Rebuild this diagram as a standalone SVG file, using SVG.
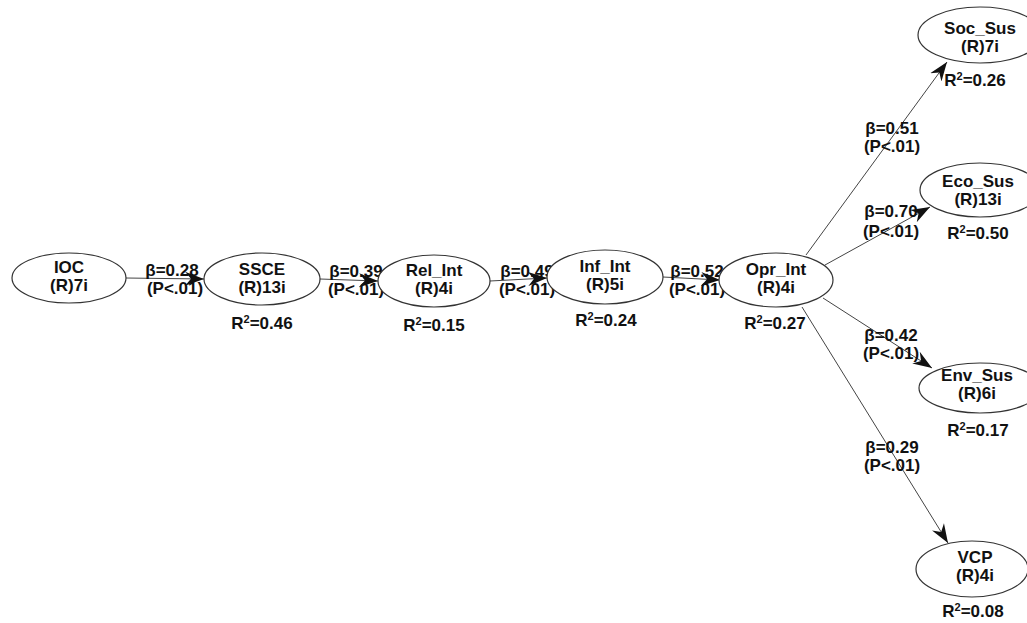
<svg xmlns="http://www.w3.org/2000/svg" width="1027" height="623" viewBox="0 0 1027 623">
<style>
.n{fill:#fff;stroke:#333;stroke-width:1.2}
.t{font-family:"Liberation Sans",Arial,sans-serif;font-weight:bold;font-size:17px;fill:#111;text-anchor:middle}
.e{stroke:#444;stroke-width:1;fill:none;marker-end:url(#ah)}
</style>
<defs>
<marker id="ah" markerUnits="userSpaceOnUse" markerWidth="20" markerHeight="16" refX="19" refY="7" orient="auto" viewBox="0 0 20 14">
<path d="M0,0 L19,7 L0,14 L6,7 z" fill="#111"/>
</marker>
</defs>
<rect width="1027" height="623" fill="#fff"/>
<g id="connectors">
<line class="e" x1="126" y1="278" x2="204" y2="279"/>
<line class="e" x1="320" y1="279" x2="378" y2="281"/>
<line class="e" x1="490" y1="281" x2="547" y2="278"/>
<line class="e" x1="663" y1="277" x2="720" y2="280"/>
<line class="e" x1="806" y1="255" x2="947" y2="62"/>
<line class="e" x1="825" y1="265" x2="930" y2="207"/>
<line class="e" x1="823" y1="298" x2="932" y2="368"/>
<line class="e" x1="802" y1="307" x2="948" y2="543"/>
<text class="t" x="172" y="276">β=0.28</text><text class="t" x="175" y="294">(P&lt;.01)</text>
<text class="t" x="356" y="277">β=0.39</text><text class="t" x="356" y="295">(P&lt;.01)</text>
<text class="t" x="527" y="277">β=0.49</text><text class="t" x="527" y="295">(P&lt;.01)</text>
<text class="t" x="697" y="277">β=0.52</text><text class="t" x="697" y="295">(P&lt;.01)</text>
<text class="t" x="892" y="134">β=0.51</text><text class="t" x="892" y="152">(P&lt;.01)</text>
<text class="t" x="891" y="217">β=0.70</text><text class="t" x="891" y="237">(P&lt;.01)</text>
<text class="t" x="891" y="341">β=0.42</text><text class="t" x="891" y="359">(P&lt;.01)</text>
<text class="t" x="892" y="453">β=0.29</text><text class="t" x="892" y="471">(P&lt;.01)</text>
</g>
<g id="IOC"><ellipse class="n" cx="69" cy="278" rx="57" ry="25"/><text class="t" x="69" y="273">IOC</text><text class="t" x="69" y="291">(R)7i</text></g>
<g id="SSCE"><ellipse class="n" cx="262" cy="279" rx="58" ry="26"/><text class="t" x="262" y="275">SSCE</text><text class="t" x="262" y="293">(R)13i</text><text class="t" x="262" y="329">R<tspan font-size="11" dy="-6">2</tspan><tspan dy="6">=0.46</tspan></text></g>
<g id="Rel_Int"><ellipse class="n" cx="434" cy="281" rx="56" ry="26"/><text class="t" x="434" y="276">Rel_Int</text><text class="t" x="434" y="294">(R)4i</text><text class="t" x="434" y="331">R<tspan font-size="11" dy="-6">2</tspan><tspan dy="6">=0.15</tspan></text></g>
<g id="Inf_Int"><ellipse class="n" cx="605" cy="277" rx="58" ry="27"/><text class="t" x="605" y="272">Inf_Int</text><text class="t" x="605" y="290">(R)5i</text><text class="t" x="606" y="326">R<tspan font-size="11" dy="-6">2</tspan><tspan dy="6">=0.24</tspan></text></g>
<g id="Opr_Int"><ellipse class="n" cx="776" cy="280" rx="57" ry="27"/><text class="t" x="776" y="275">Opr_Int</text><text class="t" x="776" y="293">(R)4i</text><text class="t" x="775" y="329">R<tspan font-size="11" dy="-6">2</tspan><tspan dy="6">=0.27</tspan></text></g>
<g id="Soc_Sus"><ellipse class="n" cx="980" cy="35" rx="62" ry="28"/><text class="t" x="980" y="34">Soc_Sus</text><text class="t" x="980" y="52">(R)7i</text><text class="t" x="975" y="86">R<tspan font-size="11" dy="-6">2</tspan><tspan dy="6">=0.26</tspan></text></g>
<g id="Eco_Sus"><ellipse class="n" cx="980" cy="190" rx="60" ry="27"/><text class="t" x="978" y="187">Eco_Sus</text><text class="t" x="978" y="205">(R)13i</text><text class="t" x="978" y="239">R<tspan font-size="11" dy="-6">2</tspan><tspan dy="6">=0.50</tspan></text></g>
<g id="Env_Sus"><ellipse class="n" cx="980" cy="388" rx="61" ry="25"/><text class="t" x="977" y="381">Env_Sus</text><text class="t" x="977" y="399">(R)6i</text><text class="t" x="978" y="436">R<tspan font-size="11" dy="-6">2</tspan><tspan dy="6">=0.17</tspan></text></g>
<g id="VCP"><ellipse class="n" cx="972" cy="569" rx="56" ry="28"/><text class="t" x="975" y="563">VCP</text><text class="t" x="975" y="581">(R)4i</text><text class="t" x="973" y="617">R<tspan font-size="11" dy="-6">2</tspan><tspan dy="6">=0.08</tspan></text></g>
</svg>
